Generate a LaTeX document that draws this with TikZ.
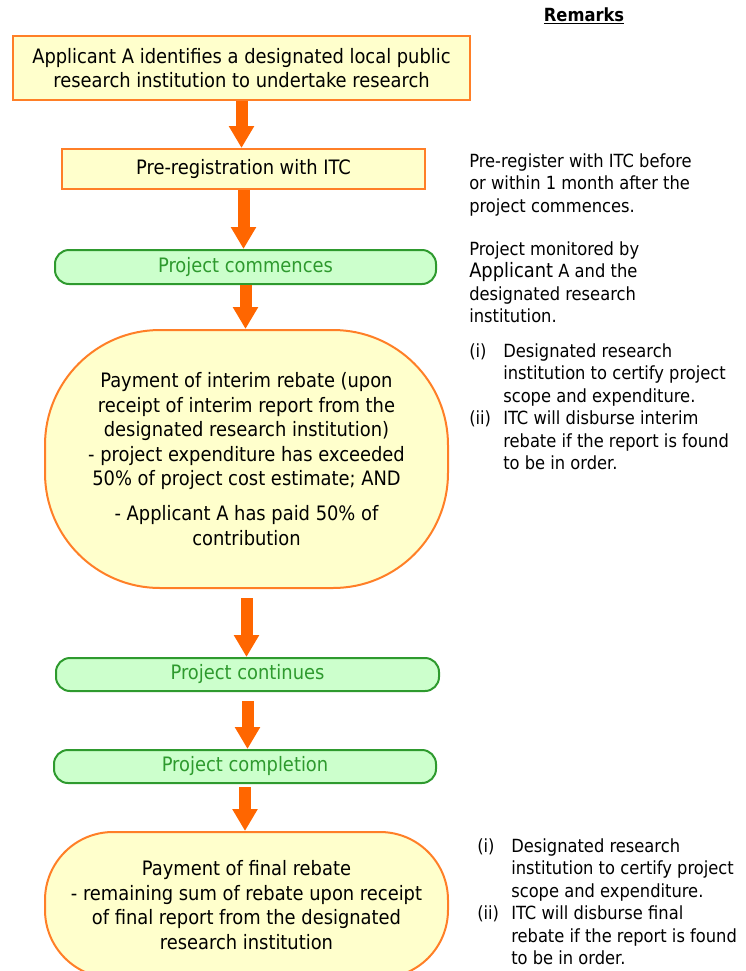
\documentclass[tikz,border=0pt]{standalone}
\usepackage{fontspec}
\setmainfont{DejaVu Sans Condensed}
\usetikzlibrary{arrows.meta}
\definecolor{boxfill}{HTML}{FFFFCC}
\definecolor{orangeline}{HTML}{FF7F27}
\definecolor{arroworange}{HTML}{FF6600}
\definecolor{greenfill}{HTML}{CCFFCC}
\definecolor{greenline}{HTML}{2E9A2E}
\definecolor{greentext}{HTML}{2E9A2E}
\begin{document}
\begin{tikzpicture}[x=0.75pt,y=-0.75pt,
  mainfont/.style={font=\fontsize{14.9}{18.4}\selectfont},
  yellowbox/.style={draw=orangeline, fill=boxfill, line width=1.5pt, rectangle, align=center, mainfont, inner sep=0pt},
  greenbox/.style={draw=greenline, fill=greenfill, line width=1.5pt, rectangle, rounded corners=10.5pt, align=center, text=greentext, mainfont, inner sep=0pt},
  ovalbox/.style={draw=orangeline, fill=boxfill, line width=1.5pt, rectangle, align=center, mainfont, inner sep=0pt},
  flowarrow/.style={draw=arroworange, line width=9pt, -{Triangle[length=16.5pt,width=18pt]}},
  remark/.style={anchor=north west, align=left, inner sep=0pt, font=\fontsize{13.6}{16.9}\selectfont}
]
\useasboundingbox (0,0) rectangle (746,971);
\clip (0,0) rectangle (746,971);

% flow nodes
\node[yellowbox, minimum width=342.75pt, minimum height=48pt] (b1) at (241.5,68)
  {Applicant A identifies a designated local public\\research institution to undertake research};
\node[yellowbox, minimum width=272.25pt, minimum height=30pt] (b2) at (243.5,169)
  {Pre-registration with ITC};
\node[greenbox, minimum width=285.75pt, minimum height=25.5pt] (g1) at (245.5,267)
  {Project commences};
\node[ovalbox, minimum width=302.25pt, minimum height=193.5pt, rounded corners=86.25pt] (e1) at (246.5,459)
  {Payment of interim rebate (upon\\receipt of interim report from the\\designated research institution)\\- project expenditure has exceeded\\50\% of project cost estimate; AND\\[7.5pt]- Applicant A has paid 50\% of\\contribution};
\node[greenbox, minimum width=287.25pt, minimum height=24.75pt] (g2) at (247.5,674.5)
  {Project continues};
\node[greenbox, minimum width=286.5pt, minimum height=24.75pt] (g3) at (245,766.5)
  {Project completion};
\node[ovalbox, minimum width=302.25pt, minimum height=109.5pt, rounded corners=51pt] (e2) at (246.5,905)
  {Payment of final rebate\\- remaining sum of rebate upon receipt\\of final report from the designated\\research institution};

% arrows
\draw[flowarrow] (b1.south) -- (b1.south |- b2.north);
\draw[flowarrow] (b2.south) -- (b2.south |- g1.north);
\draw[flowarrow] (g1.south) -- (g1.south |- e1.north);
\draw[flowarrow] ([yshift=-6.75pt]e1.south) -- (e1.south |- g2.north);
\draw[flowarrow] ([yshift=-6.75pt]g2.south) -- (g2.south |- g3.north);
\draw[flowarrow] ([yshift=-2.25pt]g3.south) -- (g3.south |- e2.north);

% remarks
\node[inner sep=0pt, font=\bfseries\fontsize{13.6}{16}\selectfont] (rh) at (584,16) {\underline{Remarks}};
\node[remark] (r1) at (469,153)
  {Pre-register with ITC before\\or within 1 month after the\\project commences.};
\node[remark] (r2) at (469,241)
  {Project monitored by\\{\fontsize{14.9}{16.9}\selectfont Applicant} A and the\\designated research\\institution.};
\node[remark] (r3) at (469,343)
  {\makebox[25.5pt][l]{(i)}Designated research\\
   \hspace*{25.5pt}institution to certify project\\
   \hspace*{25.5pt}scope and expenditure.\\
   \makebox[25.5pt][l]{(ii)}ITC will disburse interim\\
   \hspace*{25.5pt}rebate if the report is found\\
   \hspace*{25.5pt}to be in order.};
\node[remark] (r4) at (477,838)
  {\makebox[25.5pt][l]{(i)}Designated research\\
   \hspace*{25.5pt}institution to certify project\\
   \hspace*{25.5pt}scope and expenditure.\\
   \makebox[25.5pt][l]{(ii)}ITC will disburse final\\
   \hspace*{25.5pt}rebate if the report is found\\
   \hspace*{25.5pt}to be in order.};
\end{tikzpicture}
\end{document}
